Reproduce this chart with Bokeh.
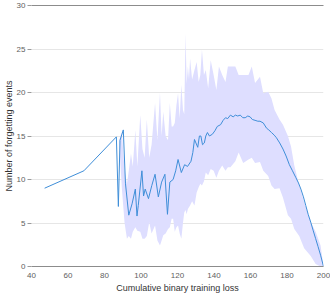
from bokeh.plotting import figure
from bokeh.models import ColumnDataSource, Range1d, LinearAxis, FixedTicker
from bokeh.embed import file_html
from bokeh.resources import INLINE

# Mean curve
line_x = [47.2, 68.7, 86.5, 87.6, 88.5, 90.3, 91.5, 93.3, 95.1, 96.9, 97.8, 98.5,
          100.5, 101.4, 102.3, 104.1, 105.9, 107.7, 109.5, 111.3, 113.1, 114.5, 115.8,
          117.6, 119.0, 120.3, 122.1, 123.9, 125.5, 127.4, 128.4, 129.3, 130.1, 131.1,
          132.0, 132.8, 133.7, 134.7, 135.5, 136.4, 137.5, 139.1, 140.5, 141.8, 143.6,
          145.0, 146.3, 147.5, 149.0, 150.5, 151.7, 153.0, 154.4, 155.8, 157.1, 158.5,
          159.8, 161.0, 162.5, 164.0, 165.2, 167.0, 168.8, 170.0, 171.5, 173.0, 174.2,
          176.0, 177.8, 179.5, 181.3, 183.0, 184.9, 186.3, 187.6, 189.0, 190.3, 191.6,
          193.0, 194.4, 195.7, 197.0, 198.4, 200.0]
line_y = [9.0, 11.0, 14.9, 6.9, 14.5, 15.7, 9.5, 5.9, 7.2, 8.9, 5.8, 7.0,
          11.0, 8.1, 8.9, 7.8, 9.3, 10.6, 8.0, 9.7, 10.6, 6.0, 9.7,
          10.0, 11.0, 12.3, 10.8, 11.7, 11.5, 12.1, 13.1, 14.6, 14.2, 13.7,
          15.0, 15.0, 14.0, 14.2, 15.0, 15.4, 15.0, 15.2, 15.6, 16.1, 16.3,
          16.8, 17.1, 17.0, 17.4, 17.2, 17.4, 17.3, 17.4, 17.1, 17.1, 17.3,
          17.2, 16.9, 16.8, 16.7, 16.7, 16.5, 15.9, 15.7, 15.4, 15.1, 14.8,
          14.2, 13.5, 12.7, 11.7, 11.0, 10.2, 9.6, 8.9, 8.0, 7.0, 6.0,
          5.1, 4.1, 3.2, 2.3, 1.3, 0.0]

# Spread band
band_x = [88.0, 89.5, 91.0, 92.3, 93.3, 94.5, 95.5, 96.9, 98.0, 99.6, 100.8, 102.0,
          103.2, 104.5, 105.8, 107.7, 109.0, 110.4, 111.3, 112.2, 113.5, 114.8, 115.8,
          116.8, 117.6, 118.5, 119.4, 120.3, 121.2, 122.1, 123.0, 123.7, 124.4, 125.0,
          125.7, 126.3, 126.9, 128.0, 129.3, 130.5, 131.6, 132.5, 133.4, 134.5, 135.5,
          136.8, 138.2, 139.8, 141.3, 142.7, 144.5, 146.3, 147.6, 149.0, 151.7, 153.5,
          156.0, 158.9, 160.7, 162.5, 165.2, 167.0, 169.7, 171.5, 173.2, 175.9, 177.8,
          180.5, 182.2, 184.0, 186.7, 189.4, 193.0, 195.7, 198.4, 200.0]
band_upper = [14.5, 15.5, 11.0, 9.5, 11.0, 13.0, 11.5, 15.7, 11.5, 17.4, 13.5, 12.5,
              16.9, 12.5, 14.0, 18.8, 14.5, 20.0, 15.0, 17.8, 15.0, 14.5, 18.8,
              16.1, 16.1, 16.5, 18.5, 19.9, 17.0, 20.9, 18.0, 17.5, 26.8, 21.0,
              23.0, 21.5, 23.9, 21.5, 22.6, 23.5, 21.2, 22.0, 24.9, 22.0, 22.6,
              20.5, 23.7, 22.0, 20.3, 23.0, 22.0, 21.2, 23.0, 23.0, 23.0, 22.0,
              22.0, 22.0, 23.0, 21.1, 21.8, 19.9, 20.1, 19.3, 18.0, 16.9, 16.3,
              15.0, 13.8, 11.6, 9.3, 7.4, 5.1, 4.0, 2.4, 0.0]
band_lower = [14.5, 9.0, 5.0, 3.2, 3.5, 3.2, 4.0, 4.5, 4.1, 4.0, 3.2, 3.2,
              3.5, 5.1, 3.8, 4.7, 3.0, 2.4, 3.0, 3.6, 3.8, 4.3, 4.5,
              5.5, 5.5, 4.0, 4.5, 4.7, 3.8, 3.2, 5.0, 6.2, 6.5, 6.0,
              6.6, 6.8, 7.0, 7.5, 7.0, 8.5, 9.1, 9.5, 9.3, 9.8, 10.8,
              10.5, 11.2, 11.0, 10.2, 11.0, 11.6, 11.0, 11.4, 11.4, 12.1, 13.1,
              11.9, 12.3, 12.5, 11.9, 12.0, 11.0, 10.4, 9.3, 8.9, 9.0, 7.9,
              5.9, 5.5, 4.3, 3.5, 2.1, 1.2, 0.3, 0.0, 0.0]

x_ticks = [40, 60, 80, 100, 120, 140, 160, 180, 200]
y_ticks = [0, 5, 10, 15, 20, 25, 30]

FONT = "Liberation Sans"

p = figure(width=330, height=295, output_backend="svg", toolbar_location=None,
           x_range=Range1d(40, 200), y_range=Range1d(0, 30),
           min_border_left=26, min_border_right=7, min_border_top=5, min_border_bottom=27)
p.outline_line_color = None
p.background_fill_color = "white"
p.border_fill_color = "white"

band = ColumnDataSource(dict(x=band_x, lo=band_lower, hi=band_upper))
p.varea(x="x", y1="lo", y2="hi", source=band, fill_color="#dedeff", fill_alpha=1.0)
p.line(line_x, line_y, line_color="#3f8ed8", line_width=1)

p.xgrid.grid_line_color = None
p.ygrid.grid_line_color = "#e6e6e6"
p.ygrid.ticker = FixedTicker(ticks=y_ticks)

xa = p.xaxis[0]
xa.ticker = FixedTicker(ticks=x_ticks)
xa.axis_label = "Cumulative binary training loss"
xa.axis_line_color = "#8c8c8c"
xa.major_tick_out = 0
xa.major_tick_in = 0
xa.minor_tick_line_color = None
xa.major_label_standoff = 6
xa.axis_label_standoff = 2
xa.major_label_text_font = FONT
xa.major_label_text_font_size = "8px"
xa.major_label_text_color = "#606060"
xa.axis_label_text_font = FONT
xa.axis_label_text_font_size = "9px"
xa.axis_label_text_font_style = "normal"
xa.axis_label_text_color = "#333333"

ya = p.yaxis[0]
ya.ticker = FixedTicker(ticks=y_ticks)
ya.axis_label = "Number of forgetting events"
ya.axis_line_color = None
ya.major_tick_out = 4
ya.major_tick_in = 0
ya.major_tick_line_color = "#9a9a9a"
ya.minor_tick_line_color = None
ya.major_label_standoff = 2
ya.axis_label_standoff = 0
ya.major_label_text_font = FONT
ya.major_label_text_font_size = "8px"
ya.major_label_text_color = "#606060"
ya.axis_label_text_font = FONT
ya.axis_label_text_font_size = "9px"
ya.axis_label_text_font_style = "normal"
ya.axis_label_text_color = "#333333"

top = LinearAxis(ticker=FixedTicker(ticks=[]), axis_line_color="#8c8c8c",
                 major_tick_line_color=None, minor_tick_line_color=None,
                 major_label_standoff=0)
p.add_layout(top, "above")

open("out.html", "w").write(file_html(p, INLINE))
